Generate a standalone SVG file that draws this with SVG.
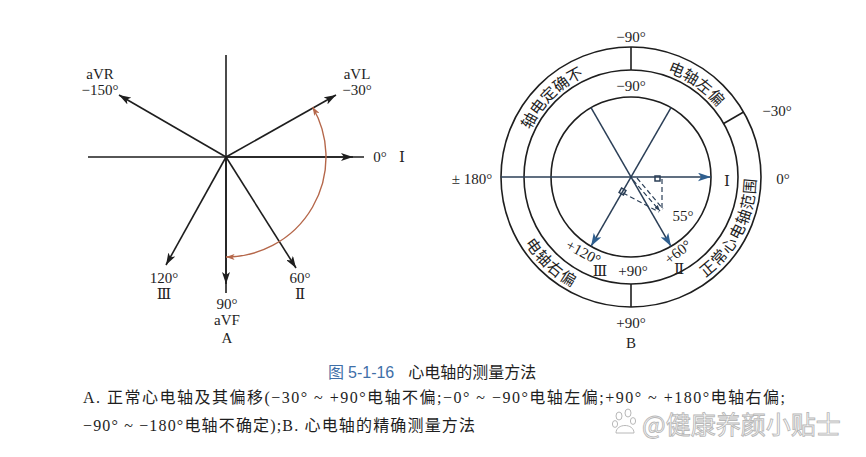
<svg xmlns="http://www.w3.org/2000/svg" width="866" height="457" viewBox="0 0 866 457">
<style>
.ln{stroke:#1e1e1e;stroke-width:1.6;fill:none}
.bl{stroke:#2b3f57;stroke-width:1.5;fill:none}
.ds{stroke:#2b3f57;stroke-width:1.2;fill:none;stroke-dasharray:5 3}
.t{font-family:"Liberation Serif","DejaVu Serif",serif;font-size:15px;fill:#1e1e1e;text-anchor:middle}
.cj{font-family:"Noto Sans CJK SC","Noto Sans CJK TC",sans-serif;font-size:15.5px;fill:#1e1e1e}
.cap{font-family:"Liberation Serif","Noto Sans CJK SC",serif;font-size:16px;fill:#1e1e1e}
</style>
<defs>
<marker id="ah" viewBox="0 0 12 8" refX="12" refY="4" markerWidth="12" markerHeight="8" markerUnits="userSpaceOnUse" orient="auto"><path d="M0,0 L12,4 L0,8 L3,4 z" fill="#1e1e1e"/></marker>
<marker id="ab" viewBox="0 0 12 8" refX="12" refY="4" markerWidth="13" markerHeight="9" markerUnits="userSpaceOnUse" orient="auto"><path d="M0,0 L12,4 L0,8 L3,4 z" fill="#2f5f8f"/></marker>
<marker id="ao" viewBox="0 0 10 7" refX="10" refY="3.5" markerWidth="9" markerHeight="6" markerUnits="userSpaceOnUse" orient="auto-start-reverse"><path d="M0,0 L10,3.5 L0,7 L2.5,3.5 z" fill="#b5674a"/></marker>
<marker id="as" viewBox="0 0 8 6" refX="8" refY="3" markerWidth="6" markerHeight="5" markerUnits="userSpaceOnUse" orient="auto"><path d="M0,0 L8,3 L0,6 z" fill="#2b3f57"/></marker>
<path id="p1" d="M523.8,148.3 A111,111 0 0 1 602.3,69.8"/>
<path id="p2" d="M640.7,66.4 A111,111 0 0 1 731.6,130.1"/>
<path id="p3" d="M673.75,294.5 A125,125 0 0 0 751.2,142.5"/>
<path id="p4" d="M511.5,213.5 A125,125 0 0 0 602.9,298.8"/>
</defs>
<rect width="866" height="457" fill="#ffffff"/>

<g id="connectors">
  <line class="ln" x1="88" y1="157" x2="364" y2="157"/>
  <line class="ln" x1="226" y1="157" x2="353" y2="157" marker-end="url(#ah)"/>
  <line class="ln" x1="226" y1="55" x2="226" y2="293"/>
  <line class="ln" x1="226" y1="157" x2="226" y2="284" marker-end="url(#ah)"/>
  <line class="ln" x1="226" y1="157" x2="336" y2="95" marker-end="url(#ah)"/>
  <line class="ln" x1="226" y1="157" x2="119" y2="95" marker-end="url(#ah)"/>
  <line class="ln" x1="226" y1="157" x2="166" y2="265" marker-end="url(#ah)"/>
  <line class="ln" x1="226" y1="157" x2="296" y2="268" marker-end="url(#ah)"/>
  <path d="M312.6,107 A100,100 0 0 1 226,257" stroke="#b5674a" stroke-width="1.4" fill="none" marker-start="url(#ao)" marker-end="url(#ao)"/>

  <circle class="ln" cx="631" cy="177" r="80"/>
  <circle class="ln" cx="631" cy="177" r="107"/>
  <circle class="ln" cx="631" cy="177" r="130"/>
  <line class="ln" x1="631" y1="47" x2="631" y2="70"/>
  <line class="ln" x1="631" y1="284" x2="631" y2="307"/>
  <line class="ln" x1="723.7" y1="123.5" x2="743.6" y2="112"/>
  <line class="bl" x1="501" y1="177" x2="711" y2="177" marker-end="url(#ab)"/>
  <line class="bl" x1="591" y1="107.7" x2="671" y2="246.3" marker-end="url(#ab)"/>
  <line class="bl" x1="671" y1="107.7" x2="591" y2="246.3" marker-end="url(#ab)"/>
  <line class="ds" x1="662" y1="179" x2="662" y2="211"/>
  <line class="ds" x1="623" y1="193" x2="659" y2="212"/>
  <line class="ds" x1="633" y1="180" x2="660" y2="211" marker-end="url(#as)"/>
  <line class="ds" x1="637" y1="178" x2="663" y2="209"/>
  <rect x="655" y="176" width="5" height="5" class="bl" stroke-width="1.1"/>
  <rect x="620" y="189" width="5" height="5" class="bl" stroke-width="1.1" transform="rotate(30 622.5 191.5)"/>
</g>

<g id="label-avr"><text class="t" x="100" y="79">aVR</text><text class="t" x="100" y="95">−150°</text></g>
<g id="label-avl"><text class="t" x="357" y="79">aVL</text><text class="t" x="357" y="95">−30°</text></g>
<g id="label-0"><text class="t" x="380" y="162">0°</text><text class="t" x="402" y="162">Ⅰ</text></g>
<g id="label-120"><text class="t" x="164" y="283">120°</text><text class="t" x="164" y="299">Ⅲ</text></g>
<g id="label-60"><text class="t" x="300" y="283">60°</text><text class="t" x="300" y="299">Ⅱ</text></g>
<g id="label-avf"><text class="t" x="227" y="309">90°</text><text class="t" x="227" y="325">aVF</text><text class="t" x="227" y="343">A</text></g>

<g id="ring-labels">
  <text class="cj"><textPath href="#p1" startOffset="50%" text-anchor="middle">轴电定确不</textPath></text>
  <text class="cj"><textPath href="#p2" startOffset="50%" text-anchor="middle">电轴左偏</textPath></text>
  <text class="cj" letter-spacing="1"><textPath href="#p3" startOffset="50%" text-anchor="middle">正常心电轴范围</textPath></text>
  <text class="cj" letter-spacing="1"><textPath href="#p4" startOffset="50%" text-anchor="middle">电轴右偏</textPath></text>
</g>

<g id="labels-b">
  <text class="t" x="631" y="42">−90°</text>
  <text class="t" x="631" y="91">−90°</text>
  <text class="t" x="777" y="116">−30°</text>
  <text class="t" x="783" y="184">0°</text>
  <text class="t" x="472" y="184">± 180°</text>
  <text class="t" x="727" y="186">Ⅰ</text>
  <text class="t" x="683" y="221">55°</text>
  <text class="t" transform="translate(581,257) rotate(28)">+120°</text>
  <text class="t" transform="translate(681,256) rotate(-38)">+60°</text>
  <text class="t" x="600" y="276">Ⅲ</text>
  <text class="t" x="633" y="276">+90°</text>
  <text class="t" x="679" y="274">Ⅱ</text>
  <text class="t" x="631" y="328">+90°</text>
  <text class="t" x="631" y="348">B</text>
</g>

<g id="caption">
  <text class="cap" x="328" y="378"><tspan fill="#3f6fa8" font-family="Noto Sans CJK SC,sans-serif">图</tspan><tspan fill="#3f6fa8" font-family="Liberation Sans,sans-serif" dx="4">5-1-16</tspan><tspan font-family="Noto Sans CJK SC,sans-serif" dx="14">心电轴的测量方法</tspan></text>
  <text class="cap" x="83" y="403" textLength="702" lengthAdjust="spacing">A. 正常心电轴及其偏移(−30° ~ +90°电轴不偏;−0° ~ −90°电轴左偏;+90° ~ +180°电轴右偏;</text>
  <text class="cap" x="83" y="431" textLength="392" lengthAdjust="spacing">−90° ~ −180°电轴不确定);B. 心电轴的精确测量方法</text>
</g>

<g id="watermark" fill="#ffffff" stroke="#b8b8b8" stroke-width="1">
  <ellipse cx="619" cy="416" rx="3" ry="4"/>
  <ellipse cx="628" cy="413" rx="3" ry="4"/>
  <ellipse cx="615" cy="424" rx="2.6" ry="3.4"/>
  <ellipse cx="633" cy="421" rx="2.6" ry="3.4"/>
  <path d="M616,433 C616,423 634,423 634,433 Z"/>
  <text x="642" y="434" font-family="Noto Sans CJK SC,sans-serif" font-size="25" stroke-width="0.9">@健康养颜小贴士</text>
</g>
</svg>
